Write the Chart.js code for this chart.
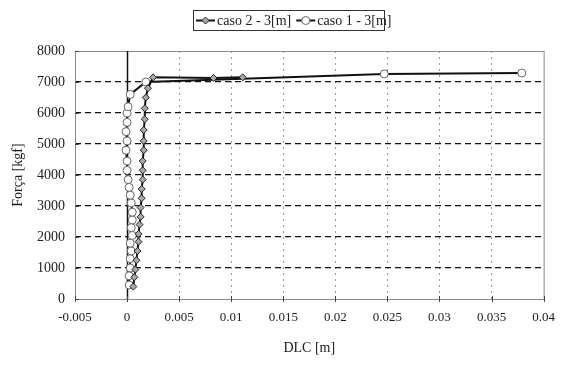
<!DOCTYPE html>
<html>
<head>
<meta charset="utf-8">
<script src="https://cdn.jsdelivr.net/npm/chart.js@4/dist/chart.umd.min.js"></script>
<style>
  html, body { margin: 0; padding: 0; background: #fff; }
  #wrap { width: 566px; height: 365px; }
</style>
</head>
<body>
<div id="wrap"><canvas id="forceChart" width="566" height="365"></canvas></div>
<script>
// DLC [m] vs Força [kgf]
const caso2X = [0.0006, 0.0007, 0.0008, 0.0009, 0.0010, 0.0011, 0.0011, 0.0012, 0.0013, 0.0013, 0.0014, 0.0014, 0.0015, 0.0015, 0.0015, 0.0016, 0.0016, 0.0016, 0.0017, 0.0017, 0.0018, 0.0020, 0.0025, 0.0083, 0.0111];
const caso2Y = [400, 700, 950, 1250, 1550, 1850, 2100, 2400, 2650, 2950, 3250, 3550, 3850, 4150, 4450, 4800, 5100, 5450, 5800, 6150, 6500, 6800, 7150, 7130, 7150];

const caso1X = [0.0002, 0.0002, 0.0003, 0.0003, 0.0004, 0.0003, 0.0005, 0.0004, 0.0005, 0.0005, 0.0004, 0.0003, 0.0002, 0.0001, 0.0000, 0.0000, -0.0001, 0.0000, -0.0001, 0.0000, 0.0000, 0.0001, 0.0003, 0.0018, 0.0247, 0.0379];
const caso1Y = [450, 750, 1000, 1300, 1550, 1800, 2050, 2300, 2550, 2800, 3100, 3350, 3600, 3850, 4150, 4450, 4800, 5100, 5400, 5700, 6000, 6200, 6600, 7000, 7260, 7290];

const xTicks = [-0.005, 0, 0.005, 0.01, 0.015, 0.02, 0.025, 0.03, 0.035, 0.04];
const yTicks = [0, 1000, 2000, 3000, 4000, 5000, 6000, 7000, 8000];

const seriesNames = ['caso 2 - 3[m]', 'caso 1 - 3[m]'];

const FONT = 'Liberation Serif';
const TEXT = '#1c1c1c';

function toPoints(xs, ys) {
    return xs.map((x, i) => ({ x: x, y: ys[i] }));
}

function fmt(v) {
    return String(parseFloat(v.toFixed(4)));
}

// frame, zero axis, small tick marks and the boxed legend
const framePlugin = {
    id: 'frame',
    beforeDatasetsDraw(chart) {
        const { ctx, chartArea: a, scales } = chart;
        ctx.save();
        ctx.strokeStyle = '#8a8a8a';
        ctx.lineWidth = 1;
        ctx.strokeRect(a.left + 0.5, a.top + 0.5, a.right - a.left, a.bottom - a.top);

        const x0 = Math.round(scales.x.getPixelForValue(0)) + 0.5;
        ctx.strokeStyle = '#111';
        ctx.lineWidth = 1.5;
        ctx.beginPath();
        ctx.moveTo(x0, a.top);
        ctx.lineTo(x0, a.bottom);
        ctx.stroke();

        ctx.lineWidth = 1;
        ctx.strokeStyle = '#444';
        ctx.beginPath();
        xTicks.forEach(v => {
            const px = Math.round(scales.x.getPixelForValue(v)) + 0.5;
            ctx.moveTo(px, a.bottom - 3);
            ctx.lineTo(px, a.bottom + 3);
        });
        yTicks.forEach(v => {
            const py = Math.round(scales.y.getPixelForValue(v)) + 0.5;
            ctx.moveTo(a.left, py);
            ctx.lineTo(a.left + 4, py);
        });
        ctx.stroke();
        ctx.restore();
    },
    afterDraw(chart) {
        const { ctx } = chart;
        const ds = chart.data.datasets;
        ctx.save();
        ctx.strokeStyle = '#333';
        ctx.lineWidth = 1;
        ctx.strokeRect(193.5, 10.5, 191, 20);
        ctx.font = '14px "' + FONT + '"';
        ctx.textBaseline = 'middle';
        let x = 196;
        const y = 20.5;
        ds.forEach(d => {
            ctx.strokeStyle = '#111';
            ctx.lineWidth = 2;
            ctx.beginPath();
            ctx.moveTo(x, y);
            ctx.lineTo(x + 19, y);
            ctx.stroke();

            const r = d.pointRadius;
            const cx = x + 9.5;
            ctx.fillStyle = d.pointBackgroundColor;
            ctx.strokeStyle = d.pointBorderColor;
            ctx.lineWidth = 1;
            ctx.beginPath();
            if (d.pointStyle === 'circle') {
                ctx.arc(cx, y, r, 0, Math.PI * 2);
            } else {
                ctx.moveTo(cx, y - r);
                ctx.lineTo(cx + r, y);
                ctx.lineTo(cx, y + r);
                ctx.lineTo(cx - r, y);
                ctx.closePath();
            }
            ctx.fill();
            ctx.stroke();

            ctx.fillStyle = TEXT;
            ctx.fillText(d.label, x + 21, y + 0.5);
            x += 21 + ctx.measureText(d.label).width + 5;
        });
        ctx.restore();
    }
};

const edge = (v, lo, hi) => v === lo || v === hi || v === 0;

new Chart(document.getElementById('forceChart').getContext('2d'), {
    type: 'line',
    data: {
        datasets: [
            {
                label: seriesNames[0],
                data: toPoints(caso2X, caso2Y),
                borderColor: '#111',
                borderWidth: 2,
                pointStyle: 'rectRot',
                pointRadius: 3.5,
                pointBackgroundColor: '#a8a8a8',
                pointBorderColor: '#222',
                pointBorderWidth: 1,
                tension: 0
            },
            {
                label: seriesNames[1],
                data: toPoints(caso1X, caso1Y),
                borderColor: '#111',
                borderWidth: 2,
                pointStyle: 'circle',
                pointRadius: 4,
                pointBackgroundColor: '#ffffff',
                pointBorderColor: '#666',
                pointBorderWidth: 1,
                tension: 0
            }
        ]
    },
    options: {
        responsive: false,
        animation: false,
        events: [],
        layout: { padding: { top: 51, right: 15, left: 0, bottom: 0 } },
        plugins: {
            legend: { display: false },
            tooltip: { enabled: false }
        },
        scales: {
            x: {
                type: 'linear',
                min: -0.005,
                max: 0.04,
                afterBuildTicks: s => { s.ticks = xTicks.map(v => ({ value: v })); },
                afterFit: s => { s.height = 66; },
                grid: {
                    color: c => edge(c.tick.value, -0.005, 0.04) ? 'rgba(0,0,0,0)' : '#9a9a9a',
                    lineWidth: 1,
                    drawTicks: false
                },
                border: { display: false, dash: [2, 4] },
                ticks: {
                    padding: 11,
                    maxRotation: 0,
                    color: TEXT,
                    font: { family: FONT, size: 13 },
                    callback: v => fmt(v)
                },
                title: {
                    display: true,
                    text: 'DLC [m]',
                    color: TEXT,
                    font: { family: FONT, size: 14 },
                    padding: { top: 0, bottom: 8.6 }
                }
            },
            y: {
                min: 0,
                max: 8000,
                afterBuildTicks: s => { s.ticks = yTicks.map(v => ({ value: v })); },
                afterFit: s => { s.width = 75; },
                grid: {
                    color: c => (c.tick.value === 0 || c.tick.value === 8000) ? 'rgba(0,0,0,0)' : '#111',
                    lineWidth: 1.3,
                    drawTicks: false
                },
                border: { display: false, dash: [6, 4] },
                ticks: {
                    padding: 10,
                    color: TEXT,
                    font: { family: FONT, size: 14 },
                    callback: v => String(v)
                },
                title: {
                    display: true,
                    text: 'Força [kgf]',
                    color: TEXT,
                    font: { family: FONT, size: 14 },
                    padding: { top: 9.6, bottom: 0 }
                }
            }
        }
    },
    plugins: [framePlugin]
});
</script>
</body>
</html>
